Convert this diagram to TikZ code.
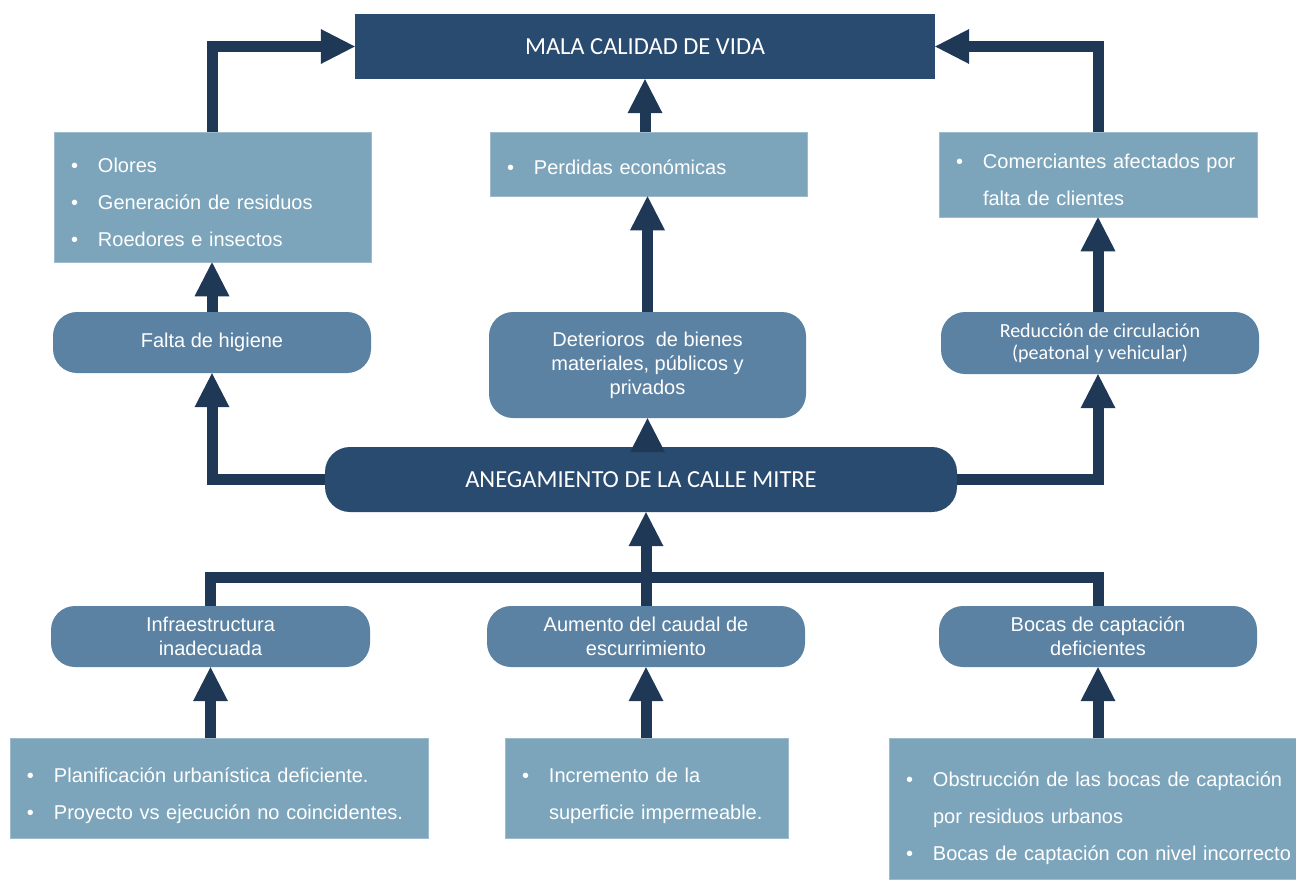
\documentclass[tikz,border=0pt]{standalone}
\usepackage{fontspec}
\setmainfont{Liberation Sans}
\newfontfamily\calib{Carlito}
\usetikzlibrary{arrows.meta}
\definecolor{darkbox}{HTML}{2A4B70}
\definecolor{midbox}{HTML}{5B82A3}
\definecolor{lightbox}{HTML}{7CA5BC}
\definecolor{connc}{HTML}{1E3856}
\newcommand\bitem[1]{\mbox{\makebox[27pt][l]{\textbullet}#1}}
\newcommand\bcont[1]{\mbox{\makebox[27pt]{}#1}}
\begin{document}
\begin{tikzpicture}[x=1pt,y=-1pt,
  lbox/.style={fill=lightbox, draw=lightbox!75!white, line width=0.6pt, text=white,
    font=\fontsize{20}{37}\selectfont, align=left, inner xsep=17pt, inner ysep=0pt},
  rbox/.style={fill=midbox, rounded corners=24pt, text=white,
    font=\fontsize{20}{24}\selectfont, align=center, inner sep=0pt},
  dbox/.style={fill=darkbox, text=white, inner sep=0pt,
    font=\calib\fontsize{24.5}{29}\selectfont},
  arr/.style={draw=connc, line width=11pt, line join=miter,
    -{Triangle[width=35pt,length=34pt,line width=0pt]}},
  bar/.style={draw=connc, line width=11pt, line join=miter},
]
\useasboundingbox (0,0) rectangle (1296,879);

% nodes
\node[dbox, minimum width=580pt, minimum height=65pt] (top) at (645,46.5) {MALA CALIDAD DE VIDA};

\node[lbox, minimum width=317pt, minimum height=130pt, text width=283pt, text height=25.4pt] (le) at (212.5,197)
  {\bitem{Olores}\\ \bitem{Generación de residuos}\\ \bitem{Roedores e insectos}};
\node[lbox, minimum width=317pt, minimum height=64pt, text width=283pt, text height=22pt] (me) at (648.5,164)
  {\bitem{Perdidas económicas}};
\node[lbox, minimum width=318pt, minimum height=85pt, text width=284pt, text height=24.6pt] (re) at (1098,174.5)
  {\bitem{\makebox[259pt][s]{Comerciantes afectados por}}\\ \bcont{falta de clientes}};

\node[rbox, minimum width=318pt, minimum height=61pt] (falta) at (212,342.5) {Falta de higiene};
\node[rbox, minimum width=317pt, minimum height=106pt] (det) at (647.5,365)
  {Deterioros\ \ de bienes\\materiales, públicos y\\privados};
\node[rbox, minimum width=318pt, minimum height=62pt, font=\calib\fontsize{20}{22}\selectfont] (red) at (1100,343)
  {Reducción de circulación\\(peatonal y vehicular)};

\node[dbox, rounded corners=25pt, minimum width=632pt, minimum height=65pt] (aneg) at (641,479.5)
  {ANEGAMIENTO DE LA CALLE MITRE};

\node[rbox, minimum width=319pt, minimum height=61pt] (infra) at (210.5,636.5) {Infraestructura\\inadecuada};
\node[rbox, minimum width=318pt, minimum height=61pt] (aum) at (646,636.5) {Aumento del caudal de\\escurrimiento};
\node[rbox, minimum width=318pt, minimum height=61pt] (bocas) at (1098,636.5) {Bocas de captación\\deficientes};

\node[lbox, minimum width=418pt, minimum height=100pt, text width=384pt, text height=29.2pt] (bl) at (219,788)
  {\bitem{Planificación urbanística deficiente.}\\ \bitem{Proyecto vs ejecución no coincidentes.}};
\node[lbox, minimum width=283pt, minimum height=100pt, text width=249pt, text height=29.2pt] (bm) at (646.5,788)
  {\bitem{Incremento de la}\\ \bcont{superficie impermeable.}};
\node[lbox, minimum width=407pt, minimum height=141pt, text width=373pt, text height=34pt] (br) at (1092.5,808.5)
  {\bitem{Obstrucción de las bocas de captación}\\ \bcont{por residuos urbanos}\\ \bitem{Bocas de captación con nivel incorrecto}};

\coordinate (barmid) at (646,577);

% connectors
\draw[arr] (le.north) |- (top.west);
\draw[arr] (re.north) |- (top.east);
\draw[arr] (top.south |- me.north) -- (top.south);
\draw[arr] (det.north) -- (det.north |- me.south);
\draw[arr] (falta.north) -- (falta.north |- le.south);
\draw[arr] (re.south |- red.north) -- (re.south);

\draw[arr] (aneg.west) -| (falta.south);
\draw[arr] (det.south |- aneg.north) -- (det.south);
\draw[arr] (aneg.east) -| (re.south |- red.south);

\draw[bar] (infra.north) |- (barmid) -| (bocas.north);
\draw[arr] (aum.north) -- (aum.north |- aneg.south);

\draw[arr] (infra.south |- bl.north) -- (infra.south);
\draw[arr] (aum.south |- bm.north) -- (aum.south);
\draw[arr] (bocas.south |- br.north) -- (bocas.south);
\end{tikzpicture}
\end{document}
